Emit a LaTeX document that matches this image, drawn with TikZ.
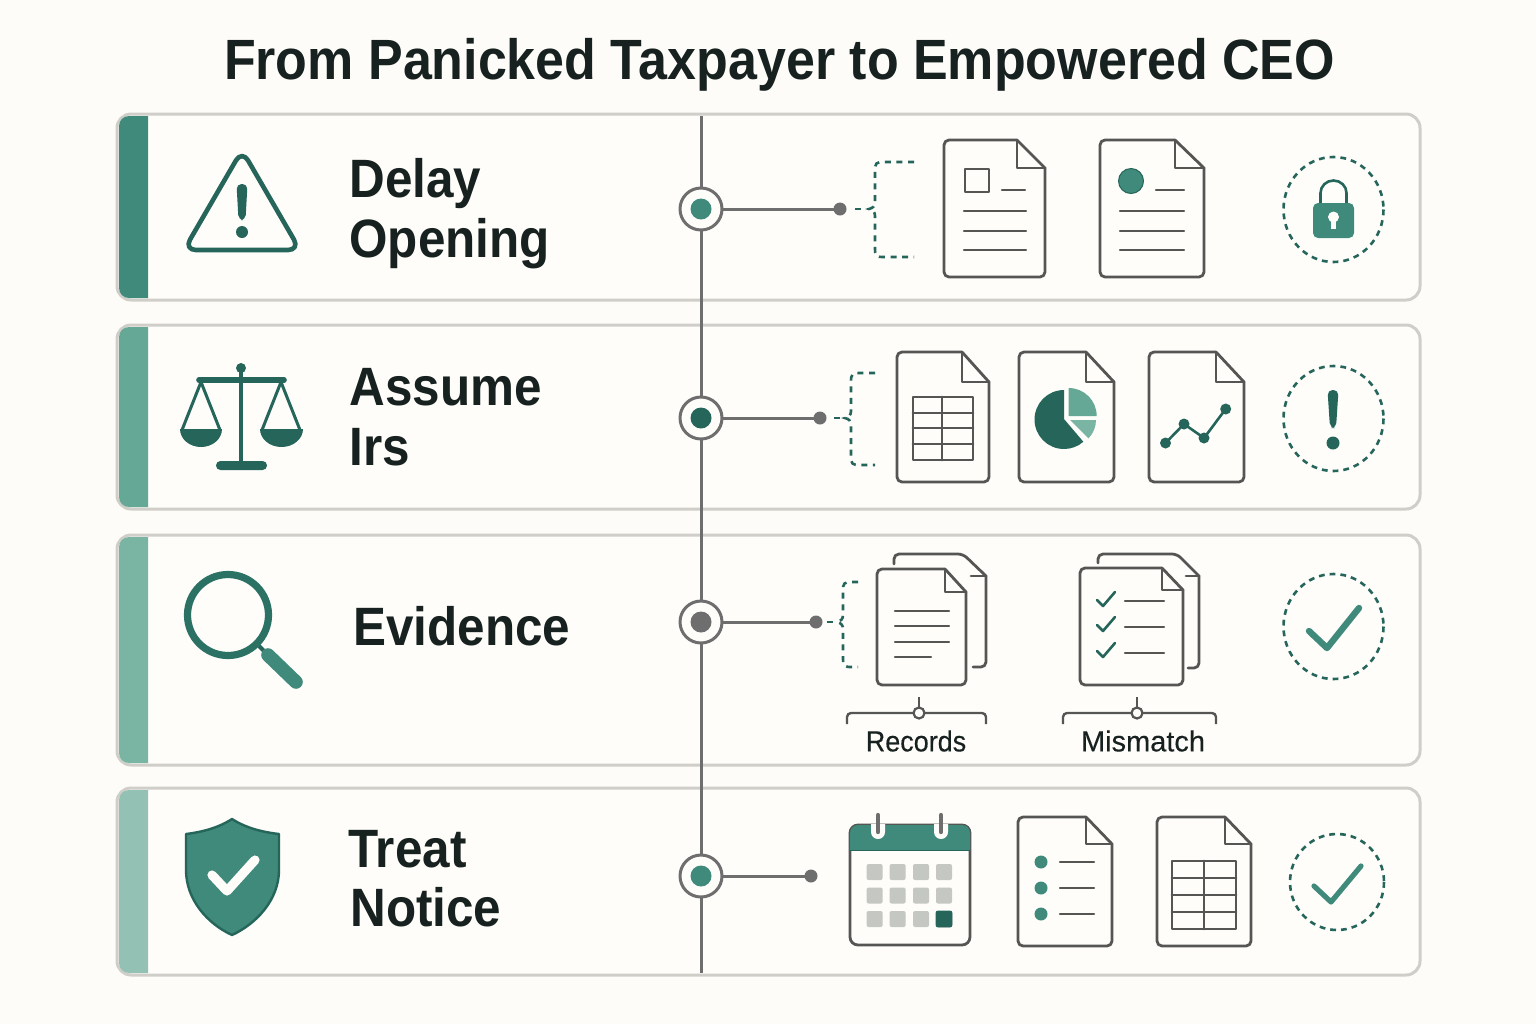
\documentclass[tikz,border=0pt]{standalone}
\usepackage{fontspec}
\setmainfont{Liberation Sans}
\newfontfamily\headfont[FakeStretch=0.915,BoldFont={Liberation Sans Bold}]{Liberation Sans Bold}
\newfontfamily\capfont[FakeStretch=0.93,FakeBold=0.25]{Liberation Sans}
\newfontfamily\capwidefont[FakeBold=0.25]{Liberation Sans}
\usetikzlibrary{calc}
\definecolor{bgc}{HTML}{FDFCF8}
\definecolor{paper}{HTML}{FEFDFA}
\definecolor{edge}{HTML}{CFCEC9}
\definecolor{teal1}{HTML}{3F8A7A}
\definecolor{teal2}{HTML}{66A896}
\definecolor{teal3}{HTML}{7AB5A3}
\definecolor{teal4}{HTML}{93C2B4}
\definecolor{dteal}{HTML}{25655A}
\definecolor{lensc}{HTML}{2C7264}
\definecolor{ink}{HTML}{17211F}
\definecolor{docg}{HTML}{555554}
\definecolor{hubg}{HTML}{6E6E6E}
\definecolor{cell}{HTML}{C5C7C2}
\tikzset{
  panel/.style={draw=edge,line width=1.5pt,fill=paper,rounded corners=7pt},
  rowtitle/.style={anchor=base west,inner sep=0pt,text=ink,font=\fontsize{27}{27}\selectfont\headfont},
  caption/.style={inner sep=0pt,text=ink,font=\fontsize{14.5}{15}\selectfont\capfont},
  hub/.style={circle,draw=hubg,fill=paper,line width=1.5pt,minimum size=21pt,inner sep=0pt,outer sep=0pt},
  enddot/.style={circle,fill=hubg,minimum size=6.5pt,inner sep=0pt,outer sep=0pt},
  spine/.style={draw=hubg,line width=1.5pt},
  conn/.style={draw=hubg,line width=1.5pt},
  docline/.style={draw=docg,line width=1.4pt,line join=round,line cap=round},
  rule/.style={draw=docg,line width=1.2pt,line cap=round},
  tealdash/.style={draw=dteal,line width=1.3pt,dash pattern=on 3pt off 2.8pt},
  ring/.style={draw=dteal,line width=1.3pt,dash pattern=on 2.9pt off 2.5pt},
  icon/.style={draw=dteal,line width=2.3pt,line join=round,line cap=round},
  braceline/.style={draw=docg,line width=1.2pt,rounded corners=2pt},
  tiny/.style={circle,draw=docg,fill=paper,line width=1.1pt,minimum size=5.5pt,inner sep=0pt,outer sep=0pt},
}
% x0 y0 x1 y1 foldx foldy
\newcommand\docicon[6]{%
  \draw[docline,fill=paper] (#5,#2) -- (#3,#6) [rounded corners=2.5pt] -- (#3,#4) -- (#1,#4) -- (#1,#2) -- (#5,#2);
  \draw[docline] (#5,#2) -- (#5,#6) -- (#3,#6);
}
% name xleft xright ytop ymid ybot stubx
\newcommand\bracketicon[7]{%
  \coordinate (#1s) at (#7,#5);
  \coordinate (#1c) at ($(#2,#5)+(-6,0)$);
  \draw[tealdash] (#1s) -- (#1c);
  \draw[tealdash] (#3,#4) -- ($(#2,#4)+(9,0)$) .. controls (#2+1,#4) and (#2,#4+1) .. (#2,#4+9) -- (#2,#5-7) .. controls (#2,#5-3) and (#2-2,#5-1) .. (#1c) .. controls (#2-2,#5+1) and (#2,#5+3) .. (#2,#5+7) -- (#2,#6-9) .. controls (#2,#6-1) and (#2+1,#6) .. ($(#2,#6)+(9,0)$) -- (#3,#6);
}
\newcommand\tickmark[2]{%
  \draw[draw=dteal,line width=1.3pt,line cap=round,line join=round] (#1,#2) -- (#1+6,#2+6) -- (#1+18,#2-8);
}
\begin{document}
\begin{tikzpicture}[x=0.5pt,y=-0.5pt]
\useasboundingbox (0,0) rectangle (1536,1024);
\fill[bgc] (0,0) rectangle (1536,1024);

\node[inner sep=0pt,anchor=base,text=ink,font=\fontsize{28.4}{30}\selectfont\headfont] (title) at (779.5,79) {From Panicked Taxpayer to Empowered CEO};

% panels
\draw[panel] (117,114) rectangle (1420,300);
\draw[panel] (117,325) rectangle (1420,509);
\draw[panel] (117,535) rectangle (1420,765);
\draw[panel] (117,788) rectangle (1420,975);
% side bars
\fill[teal1] (148,116) -- (128,116) [rounded corners=5pt] -- (119,116) -- (119,298) [sharp corners] -- (148,298) -- cycle;
\fill[teal2] (148,327) -- (128,327) [rounded corners=5pt] -- (119,327) -- (119,507) [sharp corners] -- (148,507) -- cycle;
\fill[teal3] (148,537) -- (128,537) [rounded corners=5pt] -- (119,537) -- (119,763) [sharp corners] -- (148,763) -- cycle;
\fill[teal4] (148,790) -- (128,790) [rounded corners=5pt] -- (119,790) -- (119,973) [sharp corners] -- (148,973) -- cycle;

% row titles
\node[rowtitle] (t1a) at (349,197) {Delay};
\node[rowtitle] (t1b) at (349,257) {Opening};
\node[rowtitle] (t2a) at (349,405) {Assume};
\node[rowtitle] (t2b) at (349,465) {Irs};
\node[rowtitle] (t3a) at (353,645) {Evidence};
\node[rowtitle] (t4a) at (348,867) {Treat};
\node[rowtitle] (t4b) at (350,926) {Notice};

% timeline
\coordinate (top) at (701,116);
\coordinate (bot) at (701,973);
\node[hub] (h1) at (701,209) {};
\node[hub] (h2) at (701,418) {};
\node[hub] (h3) at (701,622) {};
\node[hub] (h4) at (701,876) {};
\draw[spine] (top) -- (h1) -- (h2) -- (h3) -- (h4) -- (bot);
\fill[teal1] (h1) circle (10.5);
\fill[dteal] (h2) circle (10.5);
\fill[hubg] (h3) circle (10.5);
\fill[teal1] (h4) circle (10.5);
\node[enddot] (d1) at (840,209) {};
\node[enddot] (d2) at (820,418) {};
\node[enddot] (d3) at (816,622) {};
\node[enddot] (d4) at (811,876) {};
\draw[conn] (h1) -- (d1);
\draw[conn] (h2) -- (d2);
\draw[conn] (h3) -- (d3);
\draw[conn] (h4) -- (d4);

% brackets
\bracketicon{b1}{875}{914}{162}{209}{257}{855}
\bracketicon{b2}{851}{875}{373}{418}{465}{834}
\bracketicon{b3}{843}{858}{582}{622}{667}{827}

% warning triangle
\draw[icon,rounded corners=6pt] (242,250) -- (300,250) -- (242,150) -- (184,250) -- cycle;
\path[fill=dteal,rounded corners=2.5pt] (236.5,184) -- (247.5,184) -- (245.5,220) -- (238.5,220) -- cycle;
\fill[dteal] (242,232) circle (6);

% scales
\fill[dteal] (241,368) circle (5);
\draw[dteal,line width=2pt] (241,368) -- (241,380);
\draw[dteal,line width=2.2pt] (241,380) -- (241,463);
\draw[dteal,line width=2.8pt,line cap=round] (199,380) -- (284,380);
\draw[dteal,line width=1.5pt] (182,430) -- (201,382) -- (220,430);
\draw[dteal,line width=1.5pt] (262,430) -- (281,382) -- (300,430);
\fill[dteal] (180,429) arc (180:0:21 and 18) -- cycle;
\fill[dteal] (260,429) arc (180:0:21.5 and 18) -- cycle;
\fill[dteal,rounded corners=2.2pt] (216,461) rectangle (267,470);

% magnifier
\draw[lensc,line width=3.6pt] (228,615) circle (40.5);
\draw[dteal,line width=2pt] (259,646) -- (270,657);
\draw[teal1,line width=6.8pt,line cap=round] (268,655) -- (296,682);

% shield
\draw[draw=dteal,fill=teal1,line width=1.2pt,line join=round] (232,819) .. controls (218,828) and (202,832) .. (186,834) -- (186,870) .. controls (186,900) and (208,924) .. (232,935) .. controls (256,924) and (279,900) .. (279,870) -- (279,834) .. controls (262,832) and (246,828) .. (232,819) -- cycle;
\draw[paper,line width=4.6pt,line cap=round,line join=round] (212,875) -- (227,891) -- (255,860);

% row 1 docs
\docicon{944}{140}{1045}{277}{1017}{168}
\draw[docline] (965,169) rectangle (989,192);
\draw[rule] (1002,190) -- (1025,190);
\draw[rule] (964,211) -- (1026,211);
\draw[rule] (964,231) -- (1026,231);
\draw[rule] (964,250) -- (1026,250);
\docicon{1100}{140}{1204}{277}{1175}{168}
\draw[fill=teal1,draw=dteal,line width=.5pt] (1131,181) circle (12.5);
\draw[rule] (1156,190) -- (1184,190);
\draw[rule] (1120,211) -- (1184,211);
\draw[rule] (1120,231) -- (1184,231);
\draw[rule] (1120,250) -- (1184,250);

% lock
\draw[ring] (1333.5,209.5) ellipse (50 and 52.5);
\draw[dteal,line width=1.3pt] (1320.5,204) -- (1320.5,193) arc (180:360:13 and 12.5) -- (1346.5,204);
\fill[teal1,rounded corners=2.5pt] (1313,203) rectangle (1354,238);
\fill[paper] (1333.5,217) circle (5.5);
\fill[paper] (1331,219) rectangle (1336,229);

% row 2 docs
\docicon{897}{352}{989}{482}{962}{382}
\draw[docline] (913,397) rectangle (973,460);
\draw[docline] (942,397) -- (942,460);
\draw[docline] (913,413) -- (973,413);
\draw[docline] (913,428) -- (973,428);
\draw[docline] (913,444) -- (973,444);
\docicon{1019}{352}{1114}{482}{1086}{382}
\fill[dteal] (1064,419) -- (1064,390) arc (-90:-311:29.5) -- cycle;
\fill[teal2] (1068.5,416) -- (1096.7,416) arc (0:-90:28) -- cycle;
\fill[teal3] (1070,420) -- (1096,420) arc (0:45:26) -- cycle;
\docicon{1149}{352}{1244}{482}{1216}{382}
\draw[dteal,line width=1.3pt] (1165.5,443) -- (1184,424) -- (1204,438) -- (1225.7,409);
\foreach \px/\py in {1165.5/443,1184/424,1204/438,1225.7/409}
  \fill[dteal] (\px,\py) circle (5.5);

% alert
\draw[ring] (1333.5,418.5) ellipse (50 and 52.5);
\path[fill=dteal,rounded corners=2.5pt] (1327.5,390) -- (1338.5,390) -- (1336,428) -- (1330,428) -- cycle;
\fill[dteal] (1333,443) circle (6.5);

% row 3 docs
\draw[docline] (894,564) [rounded corners=2.5pt] -- (894,554) -- (963,554) [sharp corners] -- (986,576) [rounded corners=2.5pt] -- (986,667) -- (973,667);
\draw[docline] (971,576) -- (986,576);
\docicon{877}{569}{966}{685}{945}{592}
\draw[rule] (895,611) -- (949,611);
\draw[rule] (895,626) -- (949,626);
\draw[rule] (895,642) -- (949,642);
\draw[rule] (895,657) -- (931,657);
\draw[docline] (1098,563) [rounded corners=2.5pt] -- (1098,554) -- (1177,554) [sharp corners] -- (1199,576) [rounded corners=2.5pt] -- (1199,668) -- (1188,668);
\draw[docline] (1186,576) -- (1199,576);
\docicon{1080}{568}{1183}{685}{1162}{590}
\tickmark{1097}{600}
\tickmark{1097}{625}
\tickmark{1097}{651}
\draw[rule] (1125,601) -- (1164,601);
\draw[rule] (1125,627) -- (1164,627);
\draw[rule] (1125,653) -- (1164,653);

% labels under docs
\node[tiny] (r1) at (919,713) {};
\coordinate (r1s) at (919,697);
\draw[rule,line cap=butt] (r1s) -- (r1);
\draw[braceline] (r1.west) -- (847,713) -- (847,724);
\draw[braceline] (r1.east) -- (986,713) -- (986,724);
\node[caption] (rec) at (916,741) {Records};
\node[tiny] (r2) at (1137,713) {};
\coordinate (r2s) at (1137,697);
\draw[rule,line cap=butt] (r2s) -- (r2);
\draw[braceline] (r2.west) -- (1063,713) -- (1063,724);
\draw[braceline] (r2.east) -- (1216,713) -- (1216,724);
\node[caption,font=\fontsize{14.5}{15}\selectfont\capwidefont] (mis) at (1143,741) {Mismatch};

% check
\draw[ring] (1333.5,626.5) ellipse (50 and 52.5);
\draw[teal1,line width=3.2pt,line cap=round,line join=round] (1309,631) -- (1327,648) -- (1359,608);

% calendar
\draw[docline,fill=paper,rounded corners=4pt] (850,825) rectangle (970,945);
\fill[teal1] (850,850) -- (850,833) arc (180:270:8) -- (962,825) arc (270:360:8) -- (970,850) -- cycle;
\draw[dteal,line width=.5pt] (850,850) -- (970,850);
\foreach \rx in {878,941}{
  \fill[paper] (\rx-7,824) -- (\rx+7,824) -- (\rx+7,832) arc (0:180:7) -- cycle;
  \draw[hubg,line width=2.2pt,line cap=round] (\rx,815) -- (\rx,832);
}
\foreach \cx in {874.6,897.6,921,944}{
  \foreach \cy in {872,895.5,919}{
    \fill[cell,rounded corners=1pt] (\cx-8,\cy-8) rectangle (\cx+8,\cy+8);
  }
}
\draw[fill=dteal,draw=dteal,rounded corners=1pt] (936,911) rectangle (952,927);

% row 4 docs
\docicon{1018}{817}{1112}{946}{1086}{844}
\fill[teal1] (1041,862) circle (6.5);
\fill[teal1] (1041,888) circle (6.5);
\fill[teal1] (1041,914) circle (6.5);
\draw[rule] (1060,862) -- (1094,862);
\draw[rule] (1060,888) -- (1094,888);
\draw[rule] (1060,914) -- (1094,914);
\docicon{1157}{817}{1251}{946}{1225}{844}
\draw[docline] (1172,861) rectangle (1236,929);
\draw[docline] (1204,861) -- (1204,929);
\draw[docline] (1172,878) -- (1236,878);
\draw[docline] (1172,895) -- (1236,895);
\draw[docline] (1172,912) -- (1236,912);

% check 2
\draw[ring] (1337,882) ellipse (47 and 48);
\draw[teal1,line width=2.6pt,line cap=round,line join=round] (1314,886) -- (1331,902) -- (1361,866);
\end{tikzpicture}
\end{document}
